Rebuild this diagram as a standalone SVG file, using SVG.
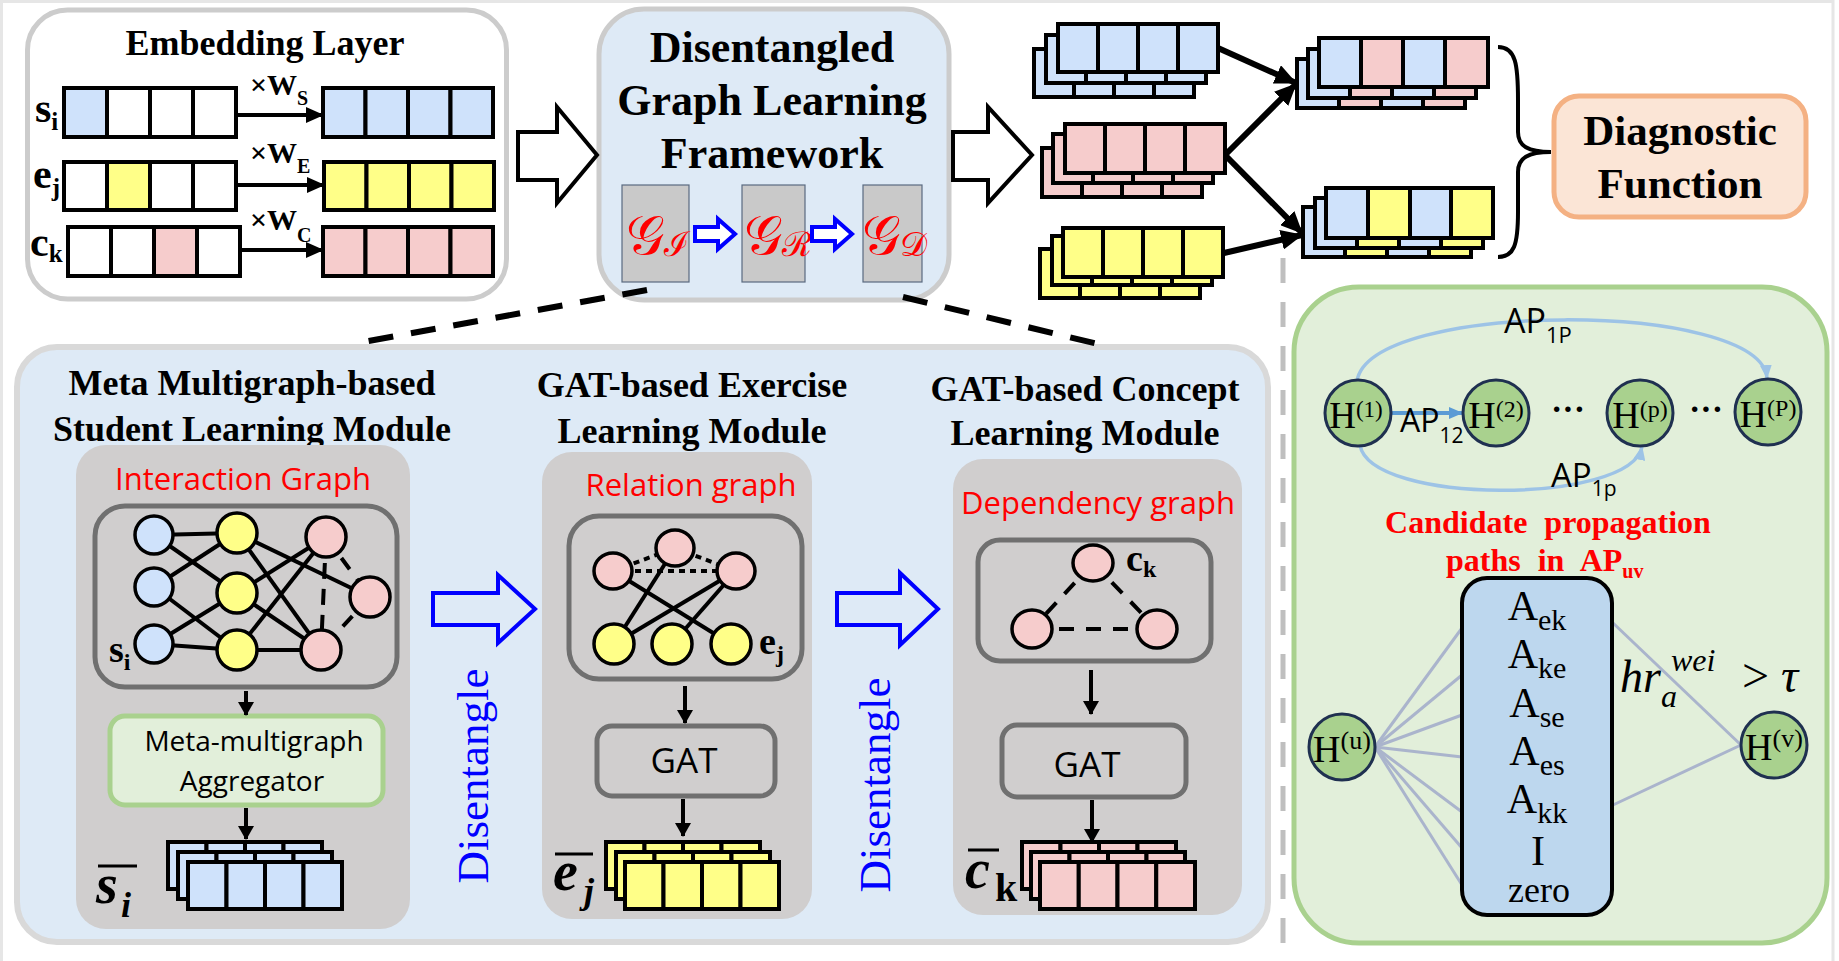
<svg xmlns="http://www.w3.org/2000/svg" width="1839" height="961" viewBox="0 0 1839 961">
<style>
.serif{font-family:"Liberation Serif","Times New Roman",serif}
.sans{font-family:"Open Sans","Liberation Sans",sans-serif}
.bold{font-weight:bold}
.cell{stroke:#000;stroke-width:4}
.b{fill:#cfe2fb}.y{fill:#ffff88}.p{fill:#f6cccc}.w{fill:#fff}
.gbox{fill:#d0cece}
.gframe{fill:none;stroke:#707070;stroke-width:5}
.edge{stroke:#000;stroke-width:4;fill:none}
.nd{stroke:#000;stroke-width:3.5}
.hn{fill:#a9d18e;stroke:#1f3050;stroke-width:3}
.red{fill:#ff0000}
.title{font-family:"Liberation Serif",serif;font-weight:bold;font-size:36px;text-anchor:middle}
</style>
<defs>
<marker id="arr" markerUnits="userSpaceOnUse" markerWidth="18" markerHeight="16" viewBox="0 0 18 16" refX="17" refY="8" orient="auto"><path d="M0,0 L18,8 L0,16 z" fill="#000"/></marker>
<marker id="arrL" markerUnits="userSpaceOnUse" markerWidth="22" markerHeight="20" viewBox="0 0 22 20" refX="21" refY="10" orient="auto"><path d="M0,0 L22,10 L0,20 z" fill="#000"/></marker>
<marker id="arrS" markerUnits="userSpaceOnUse" markerWidth="14" markerHeight="16" viewBox="0 0 14 16" refX="13" refY="8" orient="auto"><path d="M0,0 L14,8 L0,16 z" fill="#000"/></marker>
<marker id="arrB" markerUnits="userSpaceOnUse" markerWidth="14" markerHeight="12" viewBox="0 0 14 12" refX="13" refY="6" orient="auto"><path d="M0,0 L14,6 L0,12 z" fill="#5b9bd5"/></marker>
<marker id="arrLB" markerUnits="userSpaceOnUse" markerWidth="14" markerHeight="12" viewBox="0 0 14 12" refX="13" refY="6" orient="auto"><path d="M0,0 L14,6 L0,12 z" fill="#9dc3e6"/></marker>
</defs>

<rect x="0" y="0" width="1839" height="961" fill="#fff"/>
<path d="M1.5,961 V1.5 H1833 V961" fill="none" stroke="#e6e6e6" stroke-width="3"/>

<!-- Embedding layer -->
<g id="embedding-layer">
<rect x="27.5" y="10" width="479" height="289" rx="40" fill="#fff" stroke="#cccccc" stroke-width="5"/>
<text x="265" y="55" class="serif bold" font-size="36" text-anchor="middle">Embedding Layer</text>
<text x="35" y="122" class="serif bold" font-size="42">s<tspan font-size="25" dy="8">i</tspan></text>
<text x="33" y="188" class="serif bold" font-size="42">e<tspan font-size="25" dy="8">j</tspan></text>
<text x="30" y="256" class="serif bold" font-size="42">c<tspan font-size="25" dy="6">k</tspan></text>
<!-- row s -->
<rect x="64" y="88" width="43" height="49" class="cell b"/><rect x="107" y="88" width="43" height="49" class="cell w"/><rect x="150" y="88" width="43" height="49" class="cell w"/><rect x="193" y="88" width="43" height="49" class="cell w"/>
<rect x="323" y="88" width="42.5" height="49" class="cell b"/><rect x="365.5" y="88" width="42.5" height="49" class="cell b"/><rect x="408" y="88" width="42.5" height="49" class="cell b"/><rect x="450.5" y="88" width="42.5" height="49" class="cell b"/>
<!-- row e -->
<rect x="64" y="162" width="43" height="48" class="cell w"/><rect x="107" y="162" width="43" height="48" class="cell y"/><rect x="150" y="162" width="43" height="48" class="cell w"/><rect x="193" y="162" width="43" height="48" class="cell w"/>
<rect x="324" y="162" width="42.5" height="48" class="cell y"/><rect x="366.5" y="162" width="42.5" height="48" class="cell y"/><rect x="409" y="162" width="42.5" height="48" class="cell y"/><rect x="451.5" y="162" width="42.5" height="48" class="cell y"/>
<!-- row c -->
<rect x="68" y="227" width="43" height="49" class="cell w"/><rect x="111" y="227" width="43" height="49" class="cell w"/><rect x="154" y="227" width="43" height="49" class="cell p"/><rect x="197" y="227" width="43" height="49" class="cell w"/>
<rect x="323" y="227" width="42.5" height="49" class="cell p"/><rect x="365.5" y="227" width="42.5" height="49" class="cell p"/><rect x="408" y="227" width="42.5" height="49" class="cell p"/><rect x="450.5" y="227" width="42.5" height="49" class="cell p"/>
<text x="250" y="95" class="serif bold" font-size="30">×W<tspan font-size="20" dy="10">S</tspan></text>
<text x="250" y="163" class="serif bold" font-size="30">×W<tspan font-size="20" dy="10">E</tspan></text>
<text x="250" y="230" class="serif bold" font-size="30">×W<tspan font-size="20" dy="12">C</tspan></text>
</g>

<!-- Disentangled Graph Learning Framework -->
<g id="dglf">
<rect x="599" y="9" width="350" height="291" rx="45" fill="#deeaf6" stroke="#cccccc" stroke-width="5"/>
<text x="772" y="62" class="serif bold" font-size="44" text-anchor="middle">Disentangled</text>
<text x="772" y="115" class="serif bold" font-size="44" text-anchor="middle">Graph Learning</text>
<text x="772" y="168" class="serif bold" font-size="44" text-anchor="middle">Framework</text>
<rect x="622" y="185" width="67" height="97" fill="#c9c9c9" stroke="#5a6a80" stroke-width="1.2"/>
<rect x="742" y="185" width="63" height="97" fill="#c9c9c9" stroke="#5a6a80" stroke-width="1.2"/>
<rect x="863" y="185" width="59" height="97" fill="#c9c9c9" stroke="#5a6a80" stroke-width="1.2"/>
<text x="626" y="254" class="serif red" font-size="54">𝒢<tspan font-size="34" dy="2">ℐ</tspan></text>
<text x="744" y="254" class="serif red" font-size="54">𝒢<tspan font-size="34" dy="2">ℛ</tspan></text>
<text x="862" y="254" class="serif red" font-size="54">𝒢<tspan font-size="34" dy="2">𝒟</tspan></text>
<polygon points="695,227 718,227 718,219 735,234 718,249 718,241 695,241" fill="#fff" stroke="#0000ff" stroke-width="4"/>
<polygon points="812,227 835,227 835,219 852,234 835,249 835,241 812,241" fill="#fff" stroke="#0000ff" stroke-width="4"/>
</g>

<!-- Top right stacks -->
<g id="stack-s">
<rect x="1034" y="49" width="40" height="48" class="cell b"/><rect x="1074" y="49" width="40" height="48" class="cell b"/><rect x="1114" y="49" width="40" height="48" class="cell b"/><rect x="1154" y="49" width="40" height="48" class="cell b"/>
<rect x="1046" y="35" width="40" height="48" class="cell b"/><rect x="1086" y="35" width="40" height="48" class="cell b"/><rect x="1126" y="35" width="40" height="48" class="cell b"/><rect x="1166" y="35" width="40" height="48" class="cell b"/>
<rect x="1058" y="24" width="40" height="48" class="cell b"/><rect x="1098" y="24" width="40" height="48" class="cell b"/><rect x="1138" y="24" width="40" height="48" class="cell b"/><rect x="1178" y="24" width="40" height="48" class="cell b"/>
</g>
<g id="stack-c">
<rect x="1042" y="148" width="40" height="49" class="cell p"/><rect x="1082" y="148" width="40" height="49" class="cell p"/><rect x="1122" y="148" width="40" height="49" class="cell p"/><rect x="1162" y="148" width="40" height="49" class="cell p"/>
<rect x="1053" y="134" width="40" height="49" class="cell p"/><rect x="1093" y="134" width="40" height="49" class="cell p"/><rect x="1133" y="134" width="40" height="49" class="cell p"/><rect x="1173" y="134" width="40" height="49" class="cell p"/>
<rect x="1065" y="124" width="40" height="49" class="cell p"/><rect x="1105" y="124" width="40" height="49" class="cell p"/><rect x="1145" y="124" width="40" height="49" class="cell p"/><rect x="1185" y="124" width="40" height="49" class="cell p"/>
</g>
<g id="stack-e">
<rect x="1040" y="249" width="40" height="49" class="cell y"/><rect x="1080" y="249" width="40" height="49" class="cell y"/><rect x="1120" y="249" width="40" height="49" class="cell y"/><rect x="1160" y="249" width="40" height="49" class="cell y"/>
<rect x="1052" y="236" width="40" height="49" class="cell y"/><rect x="1092" y="236" width="40" height="49" class="cell y"/><rect x="1132" y="236" width="40" height="49" class="cell y"/><rect x="1172" y="236" width="40" height="49" class="cell y"/>
<rect x="1063" y="228" width="40" height="49" class="cell y"/><rect x="1103" y="228" width="40" height="49" class="cell y"/><rect x="1143" y="228" width="40" height="49" class="cell y"/><rect x="1183" y="228" width="40" height="49" class="cell y"/>
</g>
<g id="stack-sc">
<rect x="1297" y="59" width="42" height="49" class="cell b"/><rect x="1339" y="59" width="42" height="49" class="cell p"/><rect x="1381" y="59" width="42" height="49" class="cell b"/><rect x="1423" y="59" width="42" height="49" class="cell p"/>
<rect x="1308" y="49" width="42" height="49" class="cell b"/><rect x="1350" y="49" width="42" height="49" class="cell p"/><rect x="1392" y="49" width="42" height="49" class="cell b"/><rect x="1434" y="49" width="42" height="49" class="cell p"/>
<rect x="1319" y="38" width="42" height="49" class="cell b"/><rect x="1361" y="38" width="42" height="49" class="cell p"/><rect x="1403" y="38" width="42" height="49" class="cell b"/><rect x="1445" y="38" width="43" height="49" class="cell p"/>
</g>
<g id="stack-se">
<rect x="1303" y="207" width="42" height="50" class="cell b"/><rect x="1345" y="207" width="42" height="50" class="cell y"/><rect x="1387" y="207" width="42" height="50" class="cell b"/><rect x="1429" y="207" width="42" height="50" class="cell y"/>
<rect x="1315" y="198" width="42" height="50" class="cell b"/><rect x="1357" y="198" width="42" height="50" class="cell y"/><rect x="1399" y="198" width="42" height="50" class="cell b"/><rect x="1441" y="198" width="42" height="50" class="cell y"/>
<rect x="1326" y="188" width="42" height="50" class="cell b"/><rect x="1368" y="188" width="42" height="50" class="cell y"/><rect x="1410" y="188" width="41" height="50" class="cell b"/><rect x="1451" y="188" width="42" height="50" class="cell y"/>
</g>

<g id="diagnostic-function">
<rect x="1554" y="96" width="252" height="121" rx="25" fill="#fbe5d6" stroke="#f4b183" stroke-width="5"/>
<text x="1680" y="145" class="serif bold" font-size="43" text-anchor="middle">Diagnostic</text>
<text x="1680" y="198" class="serif bold" font-size="43" text-anchor="middle">Function</text>
</g>

<!-- Bottom panel -->
<g id="bottom-panel">
<rect x="17" y="347" width="1251" height="595" rx="40" fill="#deeaf6" stroke="#d9d9d9" stroke-width="6"/>
</g>

<g id="student-module">
<text x="252" y="395" class="title">Meta Multigraph-based</text>
<text x="252" y="441" class="title">Student Learning Module</text>
<rect x="76" y="445" width="334" height="484" rx="30" class="gbox"/>
<text x="243" y="490" class="sans red" font-size="31" text-anchor="middle">Interaction Graph</text>
<rect x="95" y="506" width="302" height="181" rx="30" class="gframe"/>
<g class="edge">
<line x1="154" y1="535" x2="237" y2="533"/><line x1="154" y1="535" x2="237" y2="593"/>
<line x1="154" y1="587" x2="237" y2="533"/><line x1="154" y1="587" x2="237" y2="650"/>
<line x1="154" y1="644" x2="237" y2="593"/><line x1="154" y1="644" x2="237" y2="650"/>
<line x1="237" y1="533" x2="370" y2="597"/><line x1="237" y1="533" x2="321" y2="650"/>
<line x1="237" y1="593" x2="326" y2="537"/><line x1="237" y1="593" x2="321" y2="650"/>
<line x1="237" y1="650" x2="326" y2="537"/><line x1="237" y1="650" x2="321" y2="650"/>
<line x1="326" y1="537" x2="321" y2="650" stroke-dasharray="16 10"/>
<line x1="326" y1="537" x2="370" y2="597" stroke-dasharray="14 12"/>
<line x1="370" y1="597" x2="321" y2="650" stroke-dasharray="14 12"/>
</g>
<circle cx="154" cy="535" r="19" class="nd b"/><circle cx="154" cy="587" r="19" class="nd b"/><circle cx="154" cy="644" r="19" class="nd b"/>
<circle cx="237" cy="533" r="20" class="nd y"/><circle cx="237" cy="593" r="20" class="nd y"/><circle cx="237" cy="650" r="20" class="nd y"/>
<circle cx="326" cy="537" r="20" class="nd p"/><circle cx="370" cy="597" r="20" class="nd p"/><circle cx="321" cy="650" r="20" class="nd p"/>
<text x="109" y="662" class="serif bold" font-size="38">s<tspan font-size="24" dy="8">i</tspan></text>
<rect x="110" y="716" width="273" height="89" rx="15" fill="#e2efda" stroke="#a9d18e" stroke-width="5"/>
<text x="254" y="751" class="sans" font-size="28" text-anchor="middle">Meta-multigraph</text>
<text x="252" y="791" class="sans" font-size="28" text-anchor="middle">Aggregator</text>
<rect x="168" y="842" width="38.5" height="47" class="cell b"/><rect x="206.5" y="842" width="38.5" height="47" class="cell b"/><rect x="245" y="842" width="38.5" height="47" class="cell b"/><rect x="283.5" y="842" width="38.5" height="47" class="cell b"/>
<rect x="178" y="852" width="38.5" height="47" class="cell b"/><rect x="216.5" y="852" width="38.5" height="47" class="cell b"/><rect x="255" y="852" width="38.5" height="47" class="cell b"/><rect x="293.5" y="852" width="38.5" height="47" class="cell b"/>
<rect x="188" y="862" width="38.5" height="47" class="cell b"/><rect x="226.5" y="862" width="38.5" height="47" class="cell b"/><rect x="265" y="862" width="38.5" height="47" class="cell b"/><rect x="303.5" y="862" width="38.5" height="47" class="cell b"/>
<text x="96" y="903" class="serif bold" font-size="56" font-style="italic">s</text>
<text x="121" y="917" class="serif bold" font-size="36" font-style="italic">i</text>
<line x1="98" y1="866" x2="137" y2="866" stroke="#000" stroke-width="3"/>
</g>

<g id="exercise-module">
<text x="692" y="397" class="title">GAT-based Exercise</text>
<text x="692" y="443" class="title">Learning Module</text>
<rect x="542" y="452" width="270" height="467" rx="30" class="gbox"/>
<text x="691" y="496" class="sans red" font-size="31" text-anchor="middle">Relation graph</text>
<rect x="569" y="516" width="233" height="163" rx="30" class="gframe"/>
<g class="edge">
<line x1="613" y1="571" x2="675" y2="548" stroke-dasharray="6 5"/>
<line x1="675" y1="548" x2="736" y2="571" stroke-dasharray="6 5"/>
<line x1="613" y1="571" x2="736" y2="571" stroke-dasharray="6 5"/>
<line x1="675" y1="548" x2="614" y2="644"/>
<line x1="613" y1="571" x2="731" y2="644"/>
<line x1="736" y1="571" x2="614" y2="644"/>
<line x1="736" y1="571" x2="672" y2="644"/>
</g>
<ellipse cx="675" cy="548" rx="19" ry="18" class="nd p"/><ellipse cx="613" cy="571" rx="19" ry="18" class="nd p"/><ellipse cx="736" cy="571" rx="19" ry="18" class="nd p"/>
<circle cx="614" cy="644" r="20" class="nd y"/><circle cx="672" cy="644" r="20" class="nd y"/><circle cx="731" cy="644" r="20" class="nd y"/>
<text x="759" y="654" class="serif bold" font-size="38">e<tspan font-size="24" dy="8">j</tspan></text>
<rect x="597" y="726" width="178" height="70" rx="15" class="gframe"/>
<text x="684" y="773" class="sans" font-size="35" text-anchor="middle">GAT</text>
<rect x="606" y="842" width="38.5" height="47" class="cell y"/><rect x="644.5" y="842" width="38.5" height="47" class="cell y"/><rect x="683" y="842" width="38.5" height="47" class="cell y"/><rect x="721.5" y="842" width="38.5" height="47" class="cell y"/>
<rect x="616" y="852" width="38.5" height="47" class="cell y"/><rect x="654.5" y="852" width="38.5" height="47" class="cell y"/><rect x="693" y="852" width="38.5" height="47" class="cell y"/><rect x="731.5" y="852" width="38.5" height="47" class="cell y"/>
<rect x="625" y="862" width="38.5" height="47" class="cell y"/><rect x="663.5" y="862" width="38.5" height="47" class="cell y"/><rect x="702" y="862" width="38.5" height="47" class="cell y"/><rect x="740.5" y="862" width="38.5" height="47" class="cell y"/>
<text x="553" y="890" class="serif bold" font-size="56" font-style="italic">e</text>
<text x="584" y="903" class="serif bold" font-size="36" font-style="italic">j</text>
<line x1="555" y1="854" x2="593" y2="854" stroke="#000" stroke-width="3"/>
</g>

<g id="concept-module">
<text x="1085" y="401" class="title">GAT-based Concept</text>
<text x="1085" y="445" class="title">Learning Module</text>
<rect x="953" y="459" width="289" height="456" rx="30" class="gbox"/>
<text x="1098" y="514" class="sans red" font-size="31" text-anchor="middle">Dependency graph</text>
<rect x="978" y="540" width="233" height="121" rx="22" class="gframe"/>
<g class="edge" stroke-dasharray="15 12">
<line x1="1093" y1="563" x2="1032" y2="629"/>
<line x1="1093" y1="563" x2="1157" y2="629"/>
<line x1="1032" y1="629" x2="1157" y2="629"/>
</g>
<ellipse cx="1093" cy="563" rx="20" ry="18" class="nd p"/><ellipse cx="1032" cy="629" rx="20" ry="19" class="nd p"/><ellipse cx="1157" cy="629" rx="20" ry="19" class="nd p"/>
<text x="1126" y="571" class="serif bold" font-size="38">c<tspan font-size="24" dy="6">k</tspan></text>
<rect x="1002" y="725" width="184" height="72" rx="15" class="gframe"/>
<text x="1087" y="777" class="sans" font-size="35" text-anchor="middle">GAT</text>
<rect x="1022" y="842" width="38.5" height="47" class="cell p"/><rect x="1060.5" y="842" width="38.5" height="47" class="cell p"/><rect x="1099" y="842" width="38.5" height="47" class="cell p"/><rect x="1137.5" y="842" width="38.5" height="47" class="cell p"/>
<rect x="1031" y="852" width="38.5" height="47" class="cell p"/><rect x="1069.5" y="852" width="38.5" height="47" class="cell p"/><rect x="1108" y="852" width="38.5" height="47" class="cell p"/><rect x="1146.5" y="852" width="38.5" height="47" class="cell p"/>
<rect x="1040" y="862" width="38.75" height="47" class="cell p"/><rect x="1078.75" y="862" width="38.75" height="47" class="cell p"/><rect x="1117.5" y="862" width="38.75" height="47" class="cell p"/><rect x="1156.25" y="862" width="38.75" height="47" class="cell p"/>
<text x="965" y="888" class="serif bold" font-size="56" font-style="italic">c</text>
<text x="995" y="901" class="serif bold" font-size="40">k</text>
<line x1="968" y1="850" x2="999" y2="850" stroke="#000" stroke-width="3"/>
</g>

<!-- Disentangle hollow arrows and labels -->
<g id="disentangle-1">
<polygon points="433,593 498,593 498,575 535,609 498,643 498,625 433,625" fill="none" stroke="#0000ff" stroke-width="4"/>
<text transform="translate(488,776) rotate(-90)" class="serif" font-size="45" fill="#0000ff" text-anchor="middle">Disentangle</text>
</g>
<g id="disentangle-2">
<polygon points="837,593 900,593 900,573 938,609 900,645 900,625 837,625" fill="none" stroke="#0000ff" stroke-width="4"/>
<text transform="translate(890,785) rotate(-90)" class="serif" font-size="45" fill="#0000ff" text-anchor="middle">Disentangle</text>
</g>

<!-- Green panel -->
<g id="search-panel">
<rect x="1294" y="287" width="533" height="656" rx="65" fill="#e2efda" stroke="#a9d18e" stroke-width="5"/>
<path d="M1357,381 C1370,300 1760,300 1767,378" fill="none" stroke="#9dc3e6" stroke-width="3.5" marker-end="url(#arrLB)"/>
<path d="M1360,445 C1370,505 1630,505 1642,447" fill="none" stroke="#9dc3e6" stroke-width="3.5" marker-end="url(#arrLB)"/>
<line x1="1391" y1="413" x2="1462" y2="413" stroke="#5b9bd5" stroke-width="4" marker-end="url(#arrB)"/>
<g id="h1"><circle cx="1358" cy="413" r="33" class="hn"/><text x="1356" y="428" class="serif" font-size="37" text-anchor="middle">H<tspan font-size="23" dy="-11">(1)</tspan></text></g>
<g id="h2"><circle cx="1496" cy="413" r="33" class="hn"/><text x="1496" y="428" class="serif" font-size="38" text-anchor="middle">H<tspan font-size="24" dy="-11">(2)</tspan></text></g>
<g id="hp"><circle cx="1640" cy="413" r="33" class="hn"/><text x="1640" y="428" class="serif" font-size="38" text-anchor="middle">H<tspan font-size="24" dy="-11">(p)</tspan></text></g>
<g id="hP"><circle cx="1768" cy="412" r="33" class="hn"/><text x="1768" y="427" class="serif" font-size="38" text-anchor="middle">H<tspan font-size="24" dy="-11">(P)</tspan></text></g>
<text x="1568" y="420" class="serif bold" font-size="34" text-anchor="middle">···</text>
<text x="1706" y="420" class="serif bold" font-size="34" text-anchor="middle">···</text>
<text x="1504" y="333" class="sans" font-size="34">AP<tspan font-size="22" dy="10">1P</tspan></text>
<text x="1400" y="432" class="sans" font-size="32">AP<tspan font-size="21" dy="11">12</tspan></text>
<text x="1551" y="487" class="sans" font-size="33">AP<tspan font-size="21" dy="9">1p</tspan></text>
<text x="1548" y="533" class="serif bold red" font-size="32" text-anchor="middle" word-spacing="9">Candidate propagation</text>
<text x="1446" y="571" class="serif bold red" font-size="32" word-spacing="9">paths in AP<tspan font-size="20" dy="7">uv</tspan></text>
<g stroke="#aab4cc" stroke-width="3">
<line x1="1375" y1="747" x2="1462" y2="628"/><line x1="1375" y1="747" x2="1462" y2="675"/><line x1="1375" y1="747" x2="1462" y2="715"/><line x1="1375" y1="747" x2="1462" y2="757"/><line x1="1375" y1="747" x2="1462" y2="812"/><line x1="1375" y1="747" x2="1462" y2="848"/><line x1="1375" y1="747" x2="1462" y2="885"/>
<line x1="1613" y1="623" x2="1741" y2="745"/><line x1="1613" y1="805" x2="1741" y2="745"/>
</g>
<g id="ap-candidates">
<rect x="1462" y="578" width="150" height="337" rx="25" fill="#bdd7ee" stroke="#000" stroke-width="4"/>
<text x="1537" y="620" class="serif" font-size="42" text-anchor="middle">A<tspan font-size="30" dy="10">ek</tspan></text>
<text x="1537" y="668" class="serif" font-size="42" text-anchor="middle">A<tspan font-size="30" dy="10">ke</tspan></text>
<text x="1537" y="717" class="serif" font-size="42" text-anchor="middle">A<tspan font-size="30" dy="10">se</tspan></text>
<text x="1537" y="765" class="serif" font-size="42" text-anchor="middle">A<tspan font-size="30" dy="10">es</tspan></text>
<text x="1537" y="813" class="serif" font-size="42" text-anchor="middle">A<tspan font-size="30" dy="10">kk</tspan></text>
<text x="1538" y="865" class="serif" font-size="42" text-anchor="middle">I</text>
<text x="1539" y="902" class="serif" font-size="36" text-anchor="middle">zero</text>
</g>
<g id="hu"><circle cx="1342" cy="747" r="33" class="hn"/><text x="1342" y="762" class="serif" font-size="38" text-anchor="middle">H<tspan font-size="26" dy="-13">(u)</tspan></text></g>
<g id="hv"><circle cx="1774" cy="745" r="33" class="hn"/><text x="1774" y="760" class="serif" font-size="38" text-anchor="middle">H<tspan font-size="26" dy="-13">(v)</tspan></text></g>
<text x="1620" y="692" class="serif" font-size="46" font-style="italic">hr</text>
<text x="1661" y="707" class="serif" font-size="32" font-style="italic">a</text>
<text x="1671" y="671" class="serif" font-size="32" font-style="italic">wei</text>
<text x="1742" y="692" class="serif" font-size="48">&gt; <tspan font-style="italic">τ</tspan></text>
</g>

<!-- Connectors -->
<g id="connectors">
<polygon points="518,132 557,132 557,107 597,155 557,203 557,180 518,180" fill="#fff" stroke="#000" stroke-width="4"/>
<polygon points="953,132 988,132 988,107 1032,155 988,203 988,180 953,180" fill="#fff" stroke="#000" stroke-width="4"/>
<line x1="236" y1="115" x2="323" y2="115" class="edge" marker-end="url(#arr)"/>
<line x1="237" y1="185" x2="324" y2="185" class="edge" marker-end="url(#arr)"/>
<line x1="240" y1="250" x2="323" y2="250" class="edge" marker-end="url(#arr)"/>
<line x1="1218" y1="48" x2="1296" y2="83" stroke="#000" stroke-width="6" marker-end="url(#arrL)"/>
<line x1="1225" y1="155" x2="1296" y2="84" stroke="#000" stroke-width="6" marker-end="url(#arrL)"/>
<line x1="1225" y1="155" x2="1302" y2="233" stroke="#000" stroke-width="6" marker-end="url(#arrL)"/>
<line x1="1224" y1="253" x2="1302" y2="235" stroke="#000" stroke-width="6" marker-end="url(#arrL)"/>
<path d="M1498,47 C1516,47 1518,65 1518,100 L1518,132 C1518,146 1528,152 1551,152 C1528,152 1518,158 1518,172 L1518,212 C1518,245 1514,257 1498,257" fill="none" stroke="#000" stroke-width="4"/>
<line x1="647" y1="290" x2="363" y2="342" stroke="#000" stroke-width="6" stroke-dasharray="25 18"/>
<line x1="903" y1="297" x2="1098" y2="344" stroke="#000" stroke-width="6" stroke-dasharray="25 18"/>
<line x1="1283" y1="258" x2="1283" y2="950" stroke="#bfbfbf" stroke-width="5" stroke-dasharray="25 19"/>
<line x1="246" y1="691" x2="246" y2="715" stroke="#000" stroke-width="4" marker-end="url(#arrS)"/>
<line x1="246" y1="808" x2="246" y2="839" stroke="#000" stroke-width="4" marker-end="url(#arrS)"/>
<line x1="685" y1="686" x2="685" y2="723" stroke="#000" stroke-width="4" marker-end="url(#arrS)"/>
<line x1="683" y1="799" x2="683" y2="836" stroke="#000" stroke-width="4" marker-end="url(#arrS)"/>
<line x1="1091" y1="670" x2="1091" y2="714" stroke="#000" stroke-width="4" marker-end="url(#arrS)"/>
<line x1="1092" y1="800" x2="1092" y2="842" stroke="#000" stroke-width="4" marker-end="url(#arrS)"/>
</g>
</svg>
